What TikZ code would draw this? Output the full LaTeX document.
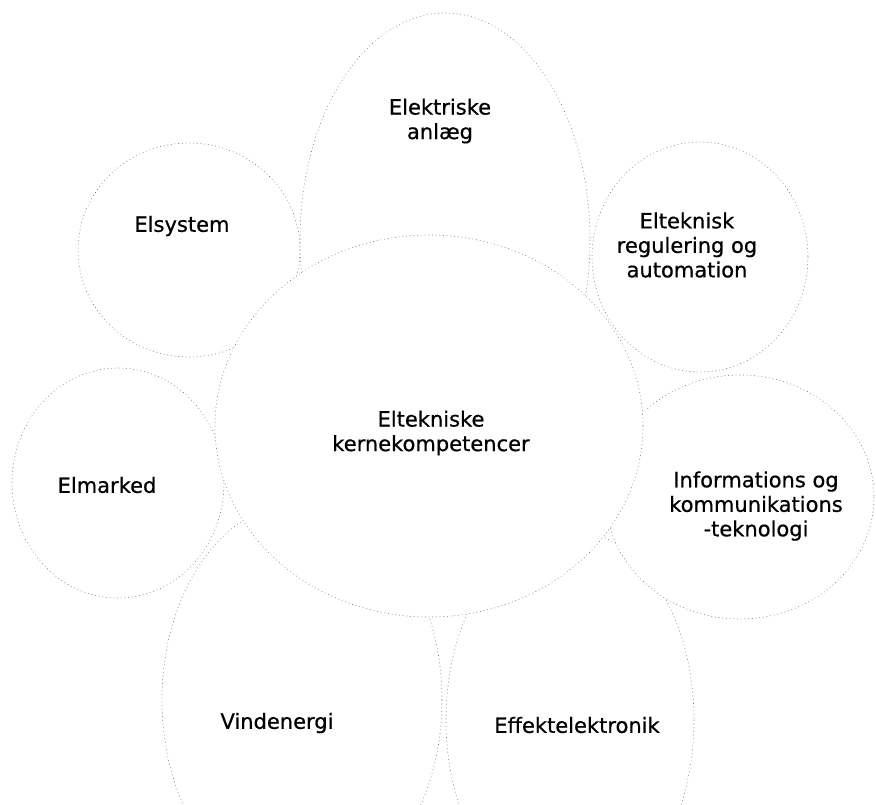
\documentclass[tikz,border=0pt]{standalone}
\usepackage{fontspec}
\setmainfont{DejaVu Sans}
\newfontfamily\lblfont{DejaVu Sans}[FakeBold=0.6]
\begin{document}
\begin{tikzpicture}[x=1pt,y=-1pt,
  blob/.style={draw=black!55, fill=white, line width=0.6pt, dash pattern=on 0.5pt off 3.2pt, line cap=round},
  lbl/.style={align=center, font=\lblfont\fontsize{21}{24.5}\selectfont, inner sep=0pt}]
\useasboundingbox (0,0) rectangle (876,804);
\clip (0,0) rectangle (876,804);
% Vindenergi (bottom layer)
\draw[blob] (302,700) ellipse [x radius=140, y radius=198];
% Effektelektronik
\draw[blob] (570,720) ellipse [x radius=124, y radius=190];
% Informations og kommunikations-teknologi
\draw[blob] (740,497) ellipse [x radius=134, y radius=122];
% Elteknisk regulering og automation
\draw[blob] (700,257) ellipse [x radius=108, y radius=115];
% Elsystem
\draw[blob] (189,250) ellipse [x radius=111, y radius=107];
% Elmarked
\draw[blob] (118,483) ellipse [x radius=106, y radius=115];
% Elektriske anlaeg
\draw[blob] (445,240) ellipse [x radius=145, y radius=227];
% Central
\draw[blob] (429,426) ellipse [x radius=214, y radius=191];
% Labels
\node[lbl] (ea) at (440,121) {Elektriske\\anlæg};
\node[lbl] (es) at (182,226) {Elsystem};
\node[lbl] (er) at (687,245) {Elteknisk\\regulering og\\automation};
\node[lbl] (c) at (431,433) {Eltekniske\\kernekompetencer};
\node[lbl] (em) at (107,485) {Elmarked};
\node[lbl] (ik) at (756,506) {Informations og\\kommunikations\\-teknologi};
\node[lbl] (ve) at (277,723) {Vindenergi};
\node[lbl] (ee) at (577,725) {Effektelektronik};
\end{tikzpicture}
\end{document}
